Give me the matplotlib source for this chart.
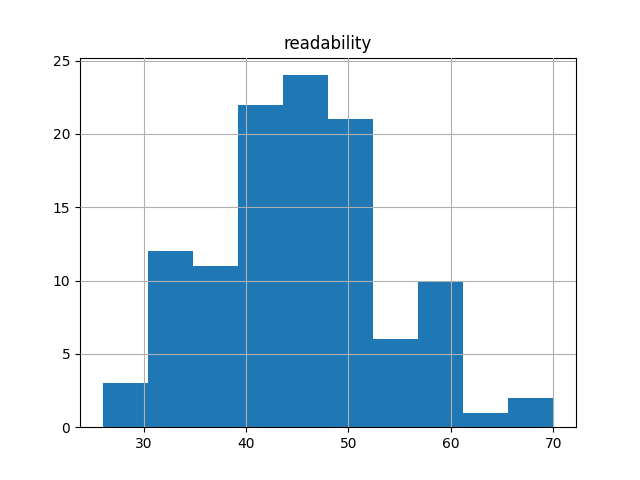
import numpy as np
import matplotlib
matplotlib.use("Agg")
import matplotlib.pyplot as plt

# histogram of readability scores (counts)
bin_start = 26.0
bin_end = 70.0
counts = [3, 12, 11, 22, 24, 21, 6, 10, 1, 2]

edges = np.linspace(bin_start, bin_end, len(counts) + 1)

fig, ax = plt.subplots(figsize=(6.4, 4.8), dpi=100)
ax.hist(edges[:-1], bins=edges, weights=counts, color="#1f77b4")
ax.grid(True)
ax.set_axisbelow(False)
ax.set_title("readability")

fig.savefig("out.png")
